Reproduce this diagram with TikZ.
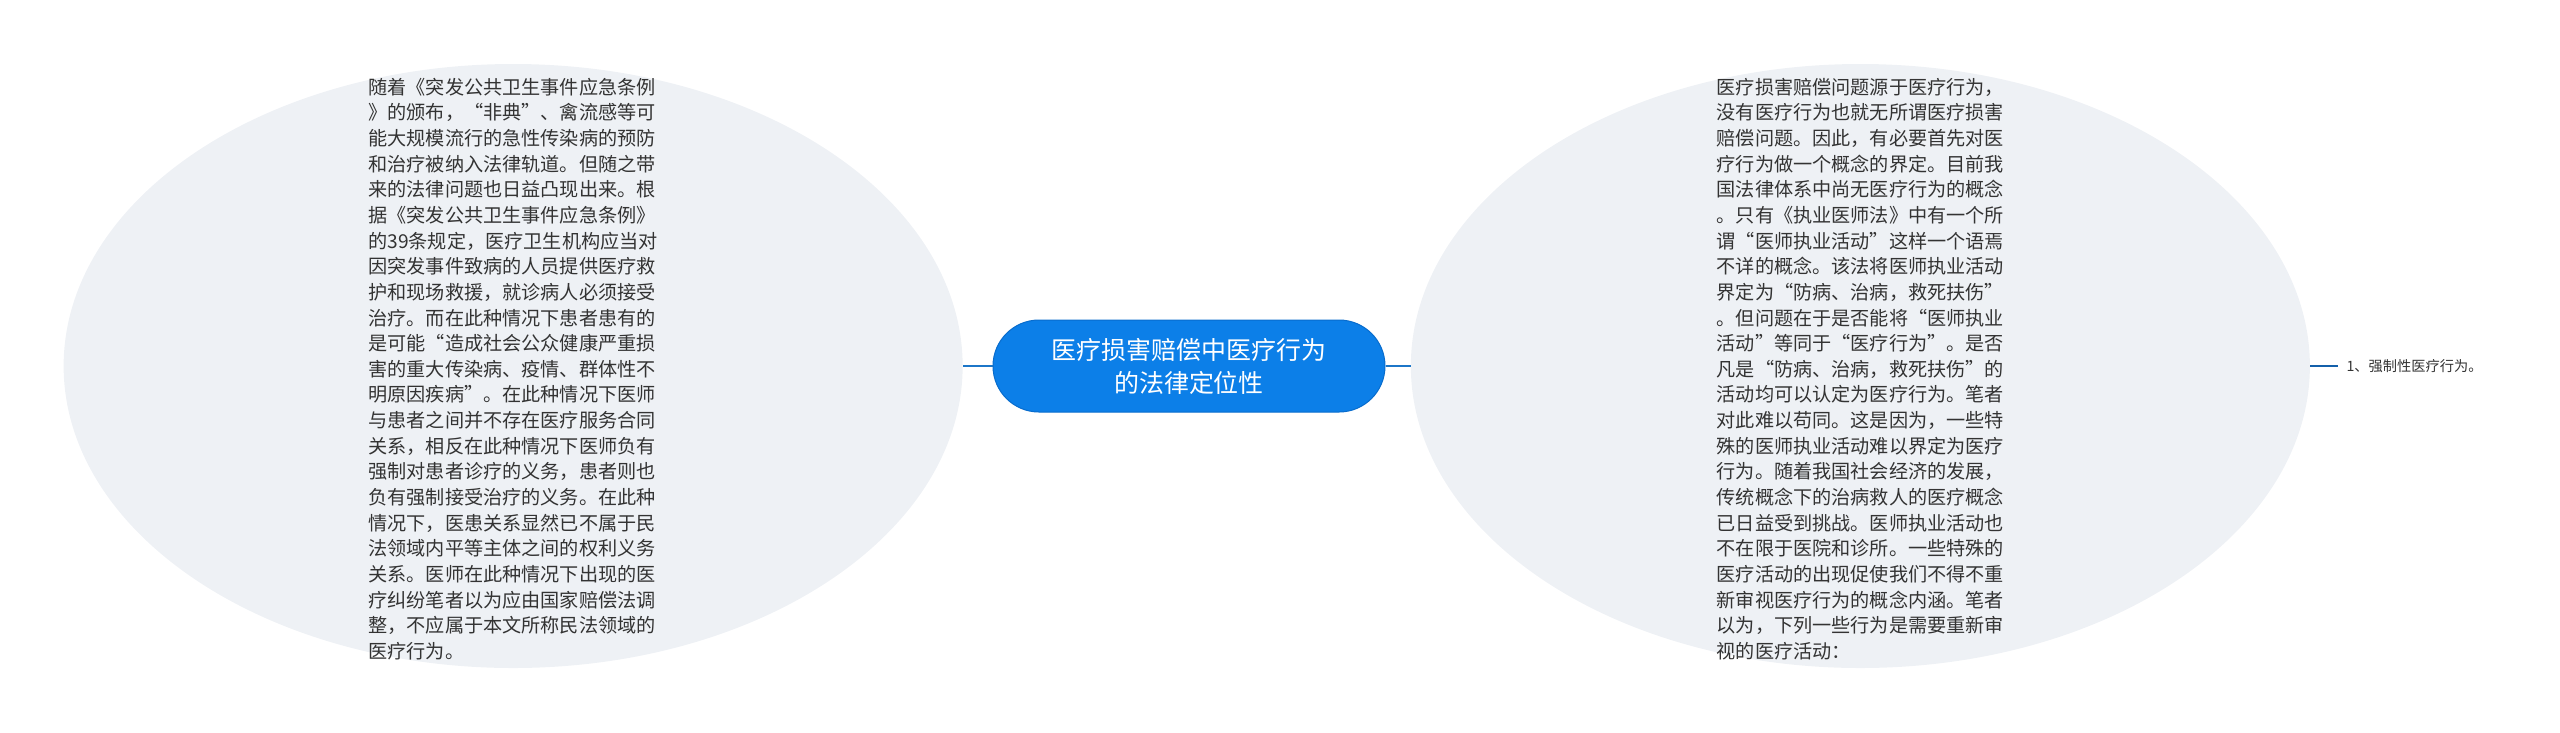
\documentclass[tikz,border=0pt]{standalone}
\usepackage{fontspec}
\setmainfont{Noto Sans CJK SC}
\usepackage{xcolor}
\usepackage{tikz}
\usetikzlibrary{positioning}
\usetikzlibrary{shapes.geometric}
\definecolor{bubblegray}{RGB}{238,241,245}
\definecolor{rootblue}{RGB}{12,127,232}
\definecolor{rootedge}{RGB}{8,108,205}
\definecolor{linkblue}{RGB}{28,118,200}
\definecolor{leafblue}{RGB}{20,96,170}
\definecolor{textgray}{RGB}{51,51,51}
\tikzset{link/.style = {draw=linkblue, line width=0.5mm}}

\begin{document}
\begin{tikzpicture}[x=0.2mm,y=-0.2mm,
    root node/.style={rectangle,rounded corners=9.2mm,fill=rootblue,draw=rootedge,line width=0.2mm,text=white,minimum width=78.4mm,minimum height=18.4mm,align=center,font=\fontsize{14.2pt}{18.8pt}\selectfont},
    bubble node/.style={ellipse,fill=bubblegray,minimum width=179.8mm,minimum height=120.8mm,inner sep=0pt},
    body node/.style={align=left,text=textgray,inner sep=0pt,font=\fontsize{10.9pt}{14.6pt}\selectfont},
    leaf node/.style={text=textgray,inner sep=1.6mm,font=\fontsize{8.1pt}{10pt}\selectfont}]
            \useasboundingbox (0,0) rectangle (2560,732);
            \node[root node] (root) at (1189,366) {医疗损害赔偿中医疗行为\\的法律定位性};
            \node[bubble node] (lbub) [left=5.9mm of root] {};
            \node[bubble node] (rbub) [right=5mm of root] {};
            \node[leaf node] (leaf) [right=5.6mm of rbub] {1、强制性医疗行为。};

            % text inside the two bubbles
            \node[body node] (ltext) at ([yshift=-0.6mm]lbub.center) {随着《突发公共卫生事件应急条例\\
》的颁布，“非典”、禽流感等可\\
能大规模流行的急性传染病的预防\\
和治疗被纳入法律轨道。但随之带\\
来的法律问题也日益凸现出来。根\\
据《突发公共卫生事件应急条例》\\
的39条规定，医疗卫生机构应当对\\
因突发事件致病的人员提供医疗救\\
护和现场救援，就诊病人必须接受\\
治疗。而在此种情况下患者患有的\\
是可能“造成社会公众健康严重损\\
害的重大传染病、疫情、群体性不\\
明原因疾病”。在此种情况下医师\\
与患者之间并不存在医疗服务合同\\
关系，相反在此种情况下医师负有\\
强制对患者诊疗的义务，患者则也\\
负有强制接受治疗的义务。在此种\\
情况下，医患关系显然已不属于民\\
法领域内平等主体之间的权利义务\\
关系。医师在此种情况下出现的医\\
疗纠纷笔者以为应由国家赔偿法调\\
整，不应属于本文所称民法领域的\\
医疗行为。};
            \node[body node] (rtext) at ([yshift=-0.6mm]rbub.center) {医疗损害赔偿问题源于医疗行为，\\
没有医疗行为也就无所谓医疗损害\\
赔偿问题。因此，有必要首先对医\\
疗行为做一个概念的界定。目前我\\
国法律体系中尚无医疗行为的概念\\
。只有《执业医师法》中有一个所\\
谓“医师执业活动”这样一个语焉\\
不详的概念。该法将医师执业活动\\
界定为“防病、治病，救死扶伤”\\
。但问题在于是否能将“医师执业\\
活动”等同于“医疗行为”。是否\\
凡是“防病、治病，救死扶伤”的\\
活动均可以认定为医疗行为。笔者\\
对此难以苟同。这是因为，一些特\\
殊的医师执业活动难以界定为医疗\\
行为。随着我国社会经济的发展，\\
传统概念下的治病救人的医疗概念\\
已日益受到挑战。医师执业活动也\\
不在限于医院和诊所。一些特殊的\\
医疗活动的出现促使我们不得不重\\
新审视医疗行为的概念内涵。笔者\\
以为，下列一些行为是需要重新审\\
视的医疗活动：};

            \path
                (root) edge[link] (lbub)
                (root) edge[link] (rbub)
                (rbub) edge[link,draw=leafblue] (leaf)
                ;
        \end{tikzpicture}
\end{document}
